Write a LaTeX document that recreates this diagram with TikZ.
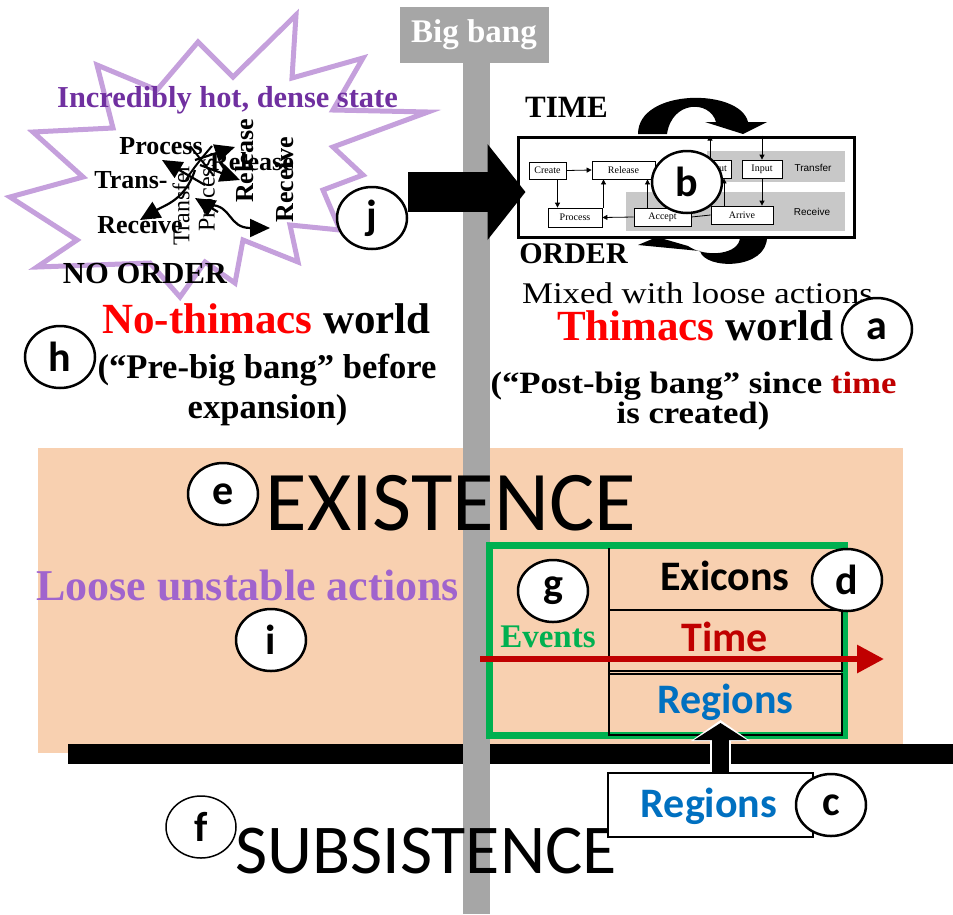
\documentclass[tikz,border=0pt]{standalone}
\usepackage{fontspec}
\usepackage{graphicx}
\setmainfont{Liberation Serif}
\newfontfamily\calfont{Carlito}
\newfontfamily\helfont{Liberation Sans}
\usetikzlibrary{shapes.geometric,arrows.meta}

\definecolor{peach}{RGB}{248,208,176}
\definecolor{axisgray}{RGB}{166,166,166}
\definecolor{starlilac}{RGB}{197,160,220}
\definecolor{hotpurple}{RGB}{112,48,160}
\definecolor{loosepurple}{RGB}{160,100,205}
\definecolor{darkred}{RGB}{192,0,0}
\definecolor{regblue}{RGB}{0,112,192}
\definecolor{evgreen}{RGB}{0,176,80}
\definecolor{bandgray}{RGB}{200,200,200}

\newcommand\fs[1]{\fontsize{#1}{#1}\selectfont}

\tikzset{
  tag/.style={ellipse, draw, line width=2.5, fill=white, minimum width=70,
    minimum height=62, inner sep=0, font=\calfont\bfseries\fs{42}},
  heading/.style={anchor=base, inner sep=0, font=\bfseries\fs{#1}},
  plain/.style={anchor=base, inner sep=0, font=\fs{#1}},
  calib/.style={anchor=base, inner sep=0, font=\calfont\fs{#1}},
  calibb/.style={anchor=base, inner sep=0, font=\calfont\bfseries\fs{#1}},
  jum/.style={anchor=base, inner sep=0, font=\bfseries\fs{26}},
  jumv/.style={inner sep=0, rotate=90, font=\fs{24}},
  jumbv/.style={inner sep=0, rotate=90, font=\bfseries\fs{26}},
  jarrow/.style={line width=2.2, -{Triangle[length=20,width=18]}},
  minibox/.style={draw, line width=0.8, fill=white, inner sep=0, font=\fs{10}},
  minilink/.style={line width=0.8, -{Triangle[length=5,width=5]}},
  band/.style={fill=bandgray, draw=none, inner sep=0},
  star/.style={draw=starlilac, line width=5, line join=miter},
}

\begin{document}
\begin{tikzpicture}[x=1pt,y=-1pt]
\useasboundingbox (0,0) rectangle (953,914);

% ---------- existence band and ground line ----------
\fill[peach] (38,448) rectangle (903,753);
\fill[black] (68,744) rectangle (953,764);

% ---------- big bang axis ----------
\fill[axisgray] (463,60) rectangle (490,914);
\node[fill=axisgray, minimum width=149, minimum height=56, inner sep=0,
      text=white, font=\bfseries\fs{33}] (bb) at (474,35) {Big bang};

% ---------- starburst: the dense pre-big-bang state ----------
\draw[star] (296,15) -- (292,78) -- (363,58) -- (333,110) -- (428,112)
  -- (333,147) -- (363,175) -- (323,190) -- (340,230) -- (290,225)
  -- (298,262) -- (243,240) -- (235,283) -- (205,262) -- (180,297)
  -- (150,263) -- (37,267) -- (77,240) -- (10,197) -- (83,177)
  -- (33,132) -- (113,128) -- (97,65) -- (157,90) -- (198,42)
  -- (233,77) -- cycle;

\node[heading=30.4, text=hotpurple] (hot) at (227.5,107) {Incredibly hot, dense state};

% jumbled actions inside the burst
\node[jumv] (vtrans) at (181,205) {Transfer};
\node[jumv] (vproc) at (207,195) {Process};
\node[jum] (jproc) at (161,154) {Process};
\node[jum] (jtrans) at (131,188) {Trans-};
\node[jum] (jrecv) at (140,233) {Receive};
\node[jum] (jrel) at (252,170) {Release};
\node[jumbv] (vrel) at (245,161) {Release};
\node[jumbv] (vrecv) at (285,180) {Receive};
\draw[jarrow] (205,185) -- (162,160);
\draw[jarrow] (195,160) -- (235,147);
\draw[jarrow] (200,165) -- (240,180);
\draw[jarrow] (195,170) .. controls (185,200) and (165,205) .. (140,220);
\draw[jarrow] (218,212) -- (195,198);
\draw[jarrow] (210,205) .. controls (232,205) and (228,228) .. (270,228);
\draw[line width=2] (190,146) -- (214,176);
\draw[line width=2] (212,146) .. controls (200,160) and (192,170) .. (186,180);

\node[heading=30.6] (noorder) at (145,283) {NO ORDER};

% ---------- ordered world: process diagram ----------
\node[heading=31] (time) at (566.5,117) {TIME};
\node[heading=30] (order) at (573.5,263) {ORDER};

\node[draw, line width=3, fill=white, minimum width=336, minimum height=100,
      inner sep=0] (tbox) at (686,187) {};
\node[band, minimum width=138, minimum height=31] (tband) at (776,166.5) {};
\node[band, minimum width=219, minimum height=39] (rband) at (735.5,211.5) {};
\node[font=\helfont\fs{10}] (tlabel) at (813,168) {Transfer};
\node[font=\helfont\fs{10}] (rlabel) at (812,212) {Receive};

\node[minibox, minimum width=37, minimum height=17] (create) at (547.5,170.5) {Create};
\node[minibox, minimum width=63, minimum height=18] (release) at (623.5,170) {Release};
\node[minibox, minimum width=36, minimum height=18] (output) at (713,169) {Output};
\node[minibox, minimum width=40, minimum height=18] (input) at (762,169) {Input};
\node[minibox, minimum width=54, minimum height=19] (process) at (575,217.5) {Process};
\node[minibox, minimum width=57, minimum height=18] (accept) at (662.5,217) {Accept};
\node[minibox, minimum width=62, minimum height=18] (arrive) at (742,215) {Arrive};

\draw[minilink] (create.east) -- (release.west);
\draw[minilink] ([xshift=10]create.south) -- ([xshift=10]create.south |- process.north);
\draw[minilink] ([xshift=-20]release.south |- process.north) -- ([xshift=-20]release.south);
\draw[minilink] (accept.west) -- (process.east);
\draw[minilink] ([xshift=-15]accept.north) -- ([xshift=-15]accept.north |- release.south);
\draw[minilink] ([xshift=-3]output.north) -- ([xshift=-3]output.north |- tbox.north);
\draw[minilink] (input.north |- tbox.north) -- (input.north);
\draw[minilink] (input.south) -- (input.south |- arrive.north);
\draw[minilink] ([xshift=-18]arrive.north) -- ([xshift=-18]arrive.north |- output.south);
\draw[line width=0.8] (accept.east) -- (arrive.west);

% curved block arrows cycling round the diagram
\fill[black] (638,134) .. controls (638,88) and (740,88) .. (748,122)
  -- (767,122) -- (743,134) -- (705,122) -- (716,122)
  .. controls (710,100) and (672,100) .. (667,134) -- cycle;
\fill[black] (740,237) .. controls (740,255) and (705,258) .. (688,246)
  -- (657,237) -- (638,245) -- (700,251)
  .. controls (705,270) and (767,270) .. (767,237) -- cycle;

\node[tag] (b) at (687,182) {b};

% ---------- captions of the two worlds ----------
\node[plain=30] (mixed) at (697.5,303) {\scalebox{1.16}[1]{Mixed with loose actions}};
\node[heading=43] (thw) at (695,340) {{\color{red}Thimacs} world};
\node[heading=31] (post1) at (693.5,393) {\scalebox{1.12}[1]{(“Post-big bang” since {\color{darkred}time}}};
\node[heading=31] (post2) at (693,423) {\scalebox{1.12}[1]{is created)}};
\node[tag] (a) at (877,329) {a};

\node[heading=43] (nthw) at (266.5,333) {{\color{red}No-thimacs} world};
\node[heading=34.6] (pre1) at (267,378) {(“Pre-big bang” before};
\node[heading=34.6] (pre2) at (267.5,418) {expansion)};
\node[tag] (h) at (60,357) {h};

% ---------- transition arrow ----------
\node[tag] (j) at (372,218) {j};
\draw[line width=40, -{Triangle[length=38,width=94]}, shorten >=-9]
  (j.east |- 0,192) -- (tbox.west |- 0,192);

% ---------- existence ----------
\node[calib=85] (exist) at (451,530) {EXISTENCE};
\node[tag] (e) at (223,494) {e};
\node[heading=44, text=loosepurple] (loose) at (247.5,600) {Loose unstable actions};
\node[tag] (i) at (271,640) {i};

% events frame
\draw[evgreen, line width=7] (489,545) rectangle (844,735);
\draw[line width=2] (609,548) -- (609,736);
\node[draw, line width=2, minimum width=233, minimum height=61, inner sep=0]
  (timecell) at (725.5,640) {};
\node[draw, line width=2, minimum width=233, minimum height=61, inner sep=0]
  (regcell) at (725.5,704.5) {};
\node[calibb=42] (exicons) at (725,590) {Exicons};
\node[calibb=42, text=darkred] (timelbl) at (724.5,651) {Time};
\node[calibb=42, text=regblue] (reglbl) at (725.5,713) {Regions};
\node[heading=33, text=evgreen] (events) at (548,647) {Events};
\node[tag] (g) at (553,591) {g};
\node[tag] (d) at (847,580) {d};

% time axis
\coordinate (t0) at (480,659);
\coordinate (t1) at (884,659);
\draw[darkred, line width=6, -{Triangle[length=27,width=27]}] (t0) -- (t1);

% ---------- subsistence ----------
\node[calib=70] (subsist) at (426,873) {SUBSISTENCE};
\node[tag, line width=1.5] (f) at (201,827) {f};

\node[draw, line width=2.5, fill=white, minimum width=205, minimum height=64,
      inner sep=0] (regbox) at (710.5,805) {};
\node[calibb=42, text=regblue] (regtxt) at (709,817) {Regions};
\node[tag] (c) at (831,805) {c};

% regions rise into existence
\draw[white, line width=21, -{Triangle[length=21,width=58]}, shorten >=-16]
  ([xshift=10]regbox.north) -- ([xshift=10]regbox.north |- regcell.south);
\draw[black, line width=17, -{Triangle[length=17,width=52]}, shorten >=-13]
  ([xshift=10]regbox.north) -- ([xshift=10]regbox.north |- regcell.south);
\end{tikzpicture}
\end{document}
